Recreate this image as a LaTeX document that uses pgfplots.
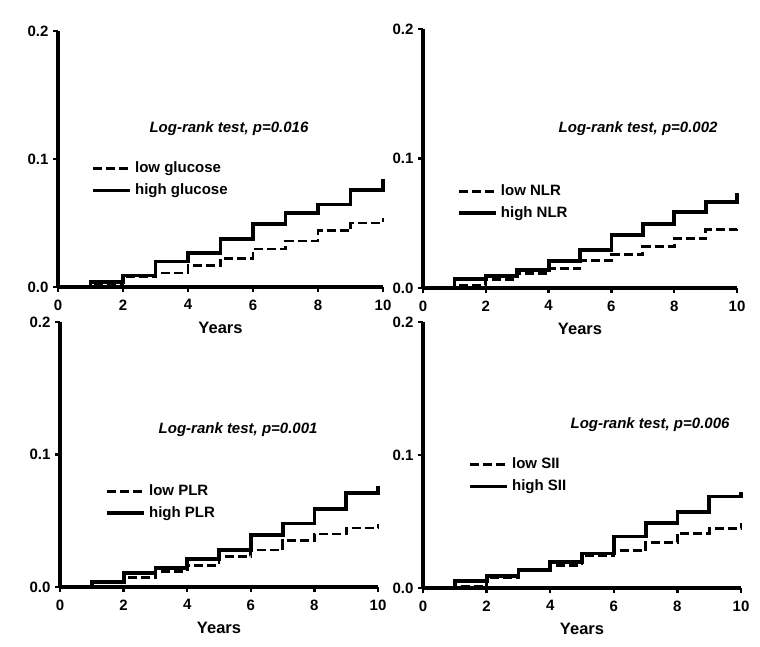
\documentclass[border=0pt]{standalone}
\usepackage{pgfplots}
\pgfplotsset{compat=1.18}
\usepackage{pgfplotstable}
\usepackage{fontspec}
\setmainfont{Liberation Sans}

\pgfplotstableread{
x low high
0 0 0
1 0.002 0.004
2 0.008 0.009
3 0.011 0.020
4 0.0165 0.0265
5 0.0225 0.0375
6 0.0297 0.049
7 0.036 0.058
8 0.044 0.0645
9 0.050 0.0756
10 0.054 0.0847
}\glucose

\pgfplotstableread{
x low high
0 0 0
1 0.0020 0.0067
2 0.0067 0.0093
3 0.0114 0.014
4 0.015 0.021
5 0.021 0.0295
6 0.0256 0.041
7 0.032 0.0496
8 0.038 0.059
9 0.045 0.0667
10 0.0486 0.073
}\nlr

\pgfplotstableread{
x low high
0 0 0
1 0.0035 0.004
2 0.0073 0.0106
3 0.0118 0.0144
4 0.0164 0.021
5 0.023 0.0277
6 0.028 0.0395
7 0.035 0.048
8 0.040 0.059
9 0.0446 0.071
10 0.0476 0.076
}\plr

\pgfplotstableread{
x low high
0 0 0
1 0.001 0.005
2 0.008 0.00875
3 0.013 0.0138
4 0.017 0.0195
5 0.0245 0.026
6 0.028 0.0388
7 0.034 0.0488
8 0.041 0.057
9 0.0445 0.0688
10 0.049 0.072
}\sii

\tikzset{
 lowc/.style={black, line width=2.8pt, dash pattern=on 9pt off 4pt, const plot},
 highc/.style={black, line width=3.8pt, const plot},
 ptext/.style={font=\fontsize{15}{18}\selectfont\bfseries\itshape, anchor=center},
}

\pgfplotsset{
 km/.style={
  scale only axis,
  anchor=south west,
  xmin=0,xmax=10,ymin=0,ymax=0.2,
  axis x line=bottom, axis y line=left,
  axis line style={line width=3.2pt,-},
  xtick={0,2,4,6,8,10}, ytick={0,0.1,0.2},
  xticklabels={0,2,4,6,8,10}, yticklabels={0.0,0.1,0.2},
  tick align=outside, major tick length=5pt,
  tick style={line width=2.4pt,black},
  tick label style={font=\fontsize{15}{17}\selectfont\bfseries},
  xticklabel style={yshift=-4pt},
  yticklabel style={xshift=-1pt},
  xlabel={Years},
  xlabel style={font=\fontsize{16.5}{19}\selectfont\bfseries, at={(axis description cs:0.5,0)}, anchor=center, yshift=-41pt},
  clip=false,
  legend cell align=left,
  legend style={draw=none, fill=none, anchor=north west, font=\fontsize{15}{17}\selectfont\bfseries, inner sep=0pt, row sep=6pt, column sep=2pt, nodes={inner sep=1pt, text height=11pt, text depth=3pt}},
  legend image code/.code={\draw[##1] (0pt,0pt) -- (37pt,0pt);},
 },
}

\begin{document}
\begin{tikzpicture}
\path[use as bounding box] (0pt,0pt) rectangle (760pt,-646pt);

% Panel 1: glucose
\begin{axis}[km, at={(58pt,-287pt)}, width=325pt, height=256pt,
  legend style={at={(axis cs:1.02,0.099)}}]
\addplot[lowc] table[x=x,y=low] {\glucose};
\addplot[highc] table[x=x,y=high] {\glucose};
\legend{low glucose, high glucose}
\node[ptext] at (axis cs:5.26,0.1234) {Log-rank test, p=0.016};
\end{axis}

% Panel 2: NLR
\begin{axis}[km, at={(423pt,-288pt)}, width=314pt, height=259pt,
  legend style={at={(axis cs:1.08,0.081)}}]
\addplot[lowc] table[x=x,y=low] {\nlr};
\addplot[highc] table[x=x,y=high] {\nlr};
\legend{low NLR, high NLR}
\node[ptext] at (axis cs:6.85,0.1228) {Log-rank test, p=0.002};
\end{axis}

% Panel 3: PLR
\begin{axis}[km, at={(60pt,-587pt)}, width=318pt, height=265pt,
  legend style={at={(axis cs:1.42,0.0785)}}]
\addplot[lowc] table[x=x,y=low] {\plr};
\addplot[highc] table[x=x,y=high] {\plr};
\legend{low PLR, high PLR}
\node[ptext] at (axis cs:5.6,0.119) {Log-rank test, p=0.001};
\end{axis}

% Panel 4: SII
\begin{axis}[km, at={(423pt,-588pt)}, width=318pt, height=266pt,
  legend style={at={(axis cs:1.42,0.099)}}]
\addplot[lowc] table[x=x,y=low] {\sii};
\addplot[highc] table[x=x,y=high] {\sii};
\legend{low SII, high SII}
\node[ptext] at (axis cs:7.14,0.1226) {Log-rank test, p=0.006};
\end{axis}
\end{tikzpicture}
\end{document}
